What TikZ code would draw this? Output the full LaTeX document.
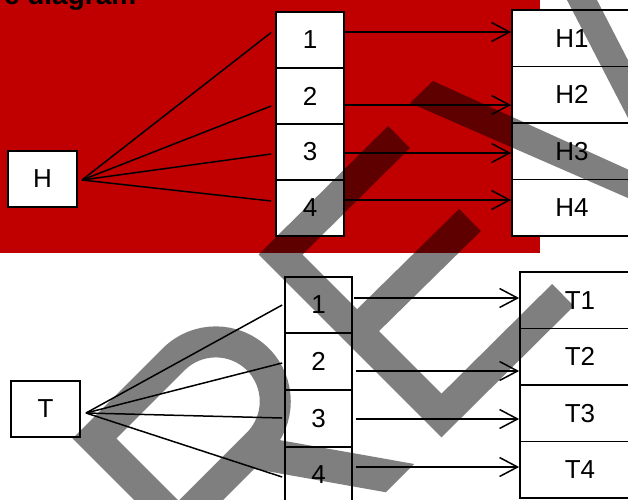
\documentclass[tikz,border=0pt]{standalone}
\usepackage{fontspec}
\setmainfont{Liberation Sans}
\usetikzlibrary{arrows.meta}

\definecolor{slidered}{RGB}{192,0,0}

\tikzset{
  cell/.style={draw, line width=1.7pt, fill=white, inner sep=0pt,
    minimum width=68pt, minimum height=56pt, font=\fontsize{26}{30}\selectfont},
  fan/.style={line width=1.5pt},
  arr/.style={line width=1.5pt, -{Straight Barb[length=18pt, width=19pt]}},
  wmstroke/.style={line width=31pt},
}

\begin{document}
\begin{tikzpicture}[x=1pt, y=-1pt]
\useasboundingbox (0,0) rectangle (628,499);

% Slide background
\fill[slidered] (0,0) rectangle (540,253);
\node[anchor=base east, inner sep=0pt, font=\bfseries\fontsize{28}{32}\selectfont] (title) at (136.5,4.5) {e diagram};

% Nodes (upper tree)
\node[cell, minimum width=69pt] (h) at (42.5,179) {H};
\coordinate (hfan) at (82,180);
\node[cell] (mh1) at (310,40) {1};
\node[cell] (mh2) at (310,96) {2};
\node[cell] (mh3) at (310,152) {3};
\node[cell] (mh4) at (310,208) {4};
\node[cell, minimum width=120pt, minimum height=56.5pt] (rh1) at (572,38.25) {H1};
\node[cell, minimum width=120pt, minimum height=56.5pt] (rh2) at (572,94.75) {H2};
\node[cell, minimum width=120pt, minimum height=56.5pt] (rh3) at (572,151.25) {H3};
\node[cell, minimum width=120pt, minimum height=56.5pt] (rh4) at (572,207.75) {H4};

% Nodes (lower tree)
\node[cell, minimum width=69pt] (t) at (45.5,409) {T};
\coordinate (tfan) at (86,413);
\node[cell, minimum width=67pt, minimum height=56.5pt] (mt1) at (318.5,305) {1};
\node[cell, minimum width=67pt, minimum height=56.5pt] (mt2) at (318.5,361.5) {2};
\node[cell, minimum width=67pt, minimum height=56.5pt] (mt3) at (318.5,418.5) {3};
\node[cell, minimum width=67pt, minimum height=56.5pt] (mt4) at (318.5,475) {4};
\node[cell, minimum width=120pt, minimum height=56.5pt] (rt1) at (580,300.25) {T1};
\node[cell, minimum width=120pt, minimum height=56.5pt] (rt2) at (580,356.75) {T2};
\node[cell, minimum width=120pt, minimum height=56.5pt] (rt3) at (580,413.25) {T3};
\node[cell, minimum width=120pt, minimum height=56.5pt] (rt4) at (580,469.75) {T4};

% Branches
\draw[fan] (hfan) -- ([shift={(-4,-7.5)}]mh1.west);
\draw[fan] (hfan) -- ([shift={(-4,10)}]mh2.west);
\draw[fan] (hfan) -- ([shift={(-4,2)}]mh3.west);
\draw[fan] (hfan) -- ([shift={(-4,-7)}]mh4.west);

\draw[fan] (tfan) -- ([shift={(-2,0)}]mt1.west);
\draw[fan] (tfan) -- ([shift={(-2,1.5)}]mt2.west);
\draw[fan] (tfan) -- ([shift={(-2,-0.5)}]mt3.west);
\draw[fan] (tfan) -- ([shift={(-2,2)}]mt4.west);

% Arrows
\draw[arr] ([shift={(0,-8)}]mh1.east) -- ([shift={(0,-6.25)}]rh1.west);
\draw[arr] ([shift={(0,9)}]mh2.east) -- ([shift={(0,10.25)}]rh2.west);
\draw[arr] ([shift={(0,1)}]mh3.east) -- ([shift={(0,1.75)}]rh3.west);
\draw[arr] ([shift={(0,-8)}]mh4.east) -- ([shift={(0,-7.75)}]rh4.west);

\draw[arr] ([shift={(1,-7)}]mt1.east) -- ([shift={(0,-2.25)}]rt1.west);
\draw[arr] ([shift={(3,9.5)}]mt2.east) -- ([shift={(0,14.25)}]rt2.west);
\draw[arr] ([shift={(3,0.5)}]mt3.east) -- ([shift={(0,5.75)}]rt3.west);
\draw[arr] ([shift={(3,-8)}]mt4.east) -- ([shift={(0,-2.75)}]rt4.west);

% Watermark
\begin{scope}[transparency group, opacity=0.5]
  % E
  \draw[wmstroke] (399,137) -- (280.5,254.5) -- (441.5,415.5) -- (563,295);
  \draw[wmstroke] (470,220) -- (357,331);
  % V
  \fill (410,103) -- (433,81) -- (662.8,185.3) -- (561.8,-10) -- (591.8,-10) -- (719.7,238) -- cycle;
  % R
  \begin{scope}[shift={(94.5,438.5)}, x={(0.7071pt,0.7071pt)}, y={(0.7071pt,-0.7071pt)}]
    \draw[wmstroke] (0,240) -- (0,0) -- (112,0) arc[start angle=-90, end angle=90, radius=59.5] -- (0,119);
    \fill (80,118) -- (120,118) -- (208,244) -- (168,244) -- cycle;
  \end{scope}
\end{scope}
\end{tikzpicture}
\end{document}
